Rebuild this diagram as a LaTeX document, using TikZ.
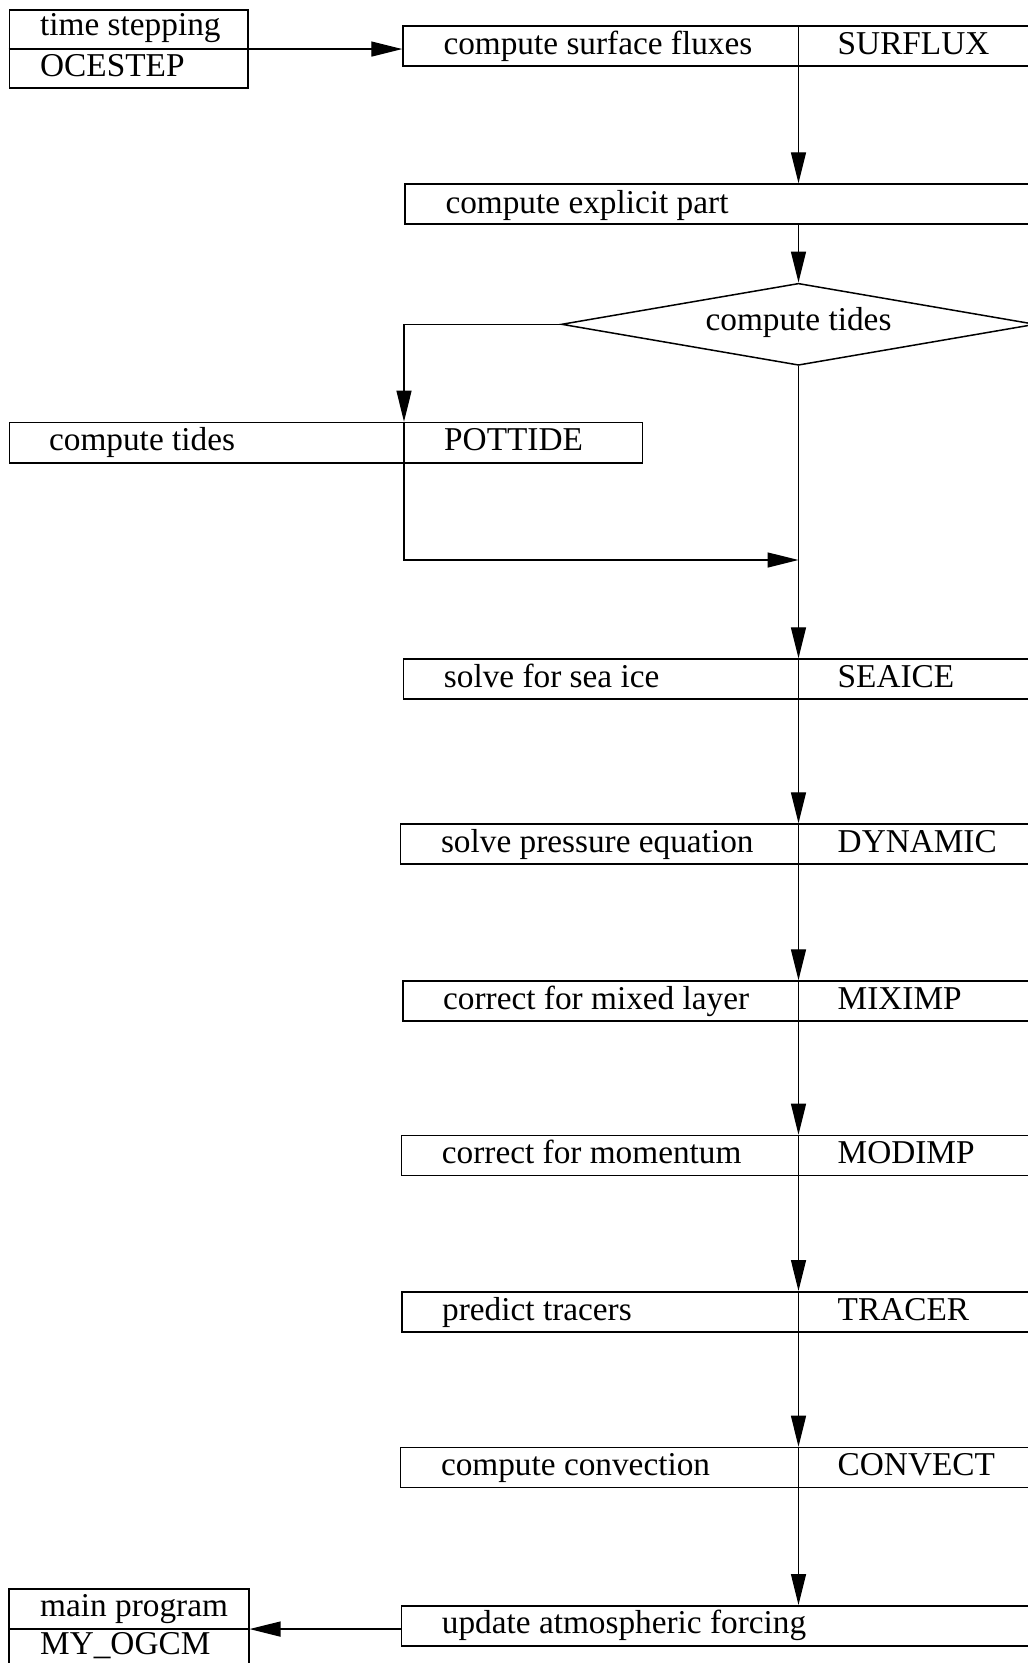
\documentclass[tikz,border=0pt]{standalone}
\usepackage{fontspec}
\setmainfont{Liberation Serif}
\usetikzlibrary{arrows.meta,calc,shapes.geometric}

\begin{document}
\begin{tikzpicture}[x=1pt,y=-1pt,
  box/.style={draw, line width=1.5pt, rectangle, inner sep=0pt, anchor=north west, minimum height=40pt},
  lbl/.style={anchor=base west, inner sep=0pt, font=\fontsize{33.3}{40}\selectfont},
  link/.style={line width=1.3pt},
  arr/.style={link, -{Triangle[length=31pt,width=15pt]}},
]
\clip (0,0) rectangle (1028,1663);

% vertical spine of the main flow and the divider of the POTTIDE box
\coordinate (spine) at (798.5,0);
\coordinate (pdiv) at (404,0);

% caller box
\node[box, minimum width=238.5pt, minimum height=78pt] (tbox) at (8.5,9.3) {};
\draw[line width=1.5pt] (tbox.west) -- (tbox.east);
\node[lbl] (tbox-a) at (40,35) {time stepping};
\node[lbl] (tbox-b) at (40,76) {OCESTEP};

% steps with a routine name on the right
\foreach \n/\x/\y/\a/\b in {
  surf/402.3/25.3/compute surface fluxes/SURFLUX,
  sea/402.7/658.3/solve for sea ice/SEAICE,
  dyn/399.8/823.3/solve pressure equation/DYNAMIC,
  mix/402/980.3/correct for mixed layer/MIXIMP,
  mom/400.7/1134.7/correct for momentum/MODIMP,
  tra/401/1291/predict tracers/TRACER,
  conv/399.8/1446.7/compute convection/CONVECT}
{
  \node[box, minimum width={(1070-\x)*1pt}] (\n) at (\x,\y) {};
  \draw[line width=1.5pt] (\n.north -| spine) -- (\n.south -| spine);
  \node[lbl] (\n-a) at ($(\n.north west)+(41,29)$) {\a};
  \node[lbl] (\n-b) at ($(\n.north -| spine)+(39,29)$) {\b};
}

% steps without a routine name
\node[box, minimum width={(1070-404.3)*1pt}] (expl) at (404.3,183.3) {};
\node[lbl] (expl-a) at ($(expl.north west)+(41,30)$) {compute explicit part};
\node[box, minimum width={(1070-400.7)*1pt}] (upd) at (400.7,1605) {};
\node[lbl] (upd-a) at ($(upd.north west)+(41,28.5)$) {update atmospheric forcing};

% decision
\node[diamond, draw, line width=1.5pt, inner sep=0pt, aspect=5.78,
      minimum width=474pt, minimum height=82pt] (dia) at (798.5,324.3) {};
\node[lbl, anchor=base] (dia-a) at ($(dia.center)+(0,6)$) {compute tides};

% tidal branch
\node[box, minimum width=632.6pt, minimum height=40.6pt] (pot) at (8.9,421.7) {};
\draw[line width=1.5pt] (pot.north -| pdiv) -- (pot.south -| pdiv);
\node[lbl] (pot-a) at ($(pot.north west)+(40,29)$) {compute tides};
\node[lbl] (pot-b) at ($(pot.north -| pdiv)+(40,29)$) {POTTIDE};
\coordinate (join) at (798.5,560);

% returning box
\node[box, minimum width=240pt, minimum height=80pt] (mbox) at (8,1588.3) {};
\draw[line width=1.5pt] (mbox.west) -- (mbox.east);
\node[lbl] (mbox-a) at (40,1616) {main program};
\node[lbl] (mbox-b) at (40,1654.3) {MY\_OGCM};

% connectors
\draw[arr] (tbox.east) -- (surf.west |- tbox.east);
\draw[arr] (surf.south -| spine) -- (expl.north -| spine);
\draw[arr] (expl.south -| spine) -- (dia.north);
\draw[arr] (dia.west) -| (pot.north -| pdiv);
\draw[arr] (pot.south -| pdiv) |- (join);
\draw[arr] (dia.south) -- (sea.north -| spine);
\draw[arr] (sea.south -| spine) -- (dyn.north -| spine);
\draw[arr] (dyn.south -| spine) -- (mix.north -| spine);
\draw[arr] (mix.south -| spine) -- (mom.north -| spine);
\draw[arr] (mom.south -| spine) -- (tra.north -| spine);
\draw[arr] (tra.south -| spine) -- (conv.north -| spine);
\draw[arr] (conv.south -| spine) -- (upd.north -| spine);
\draw[arr] (upd.west |- mbox.east) -- (mbox.east);
\end{tikzpicture}
\end{document}
